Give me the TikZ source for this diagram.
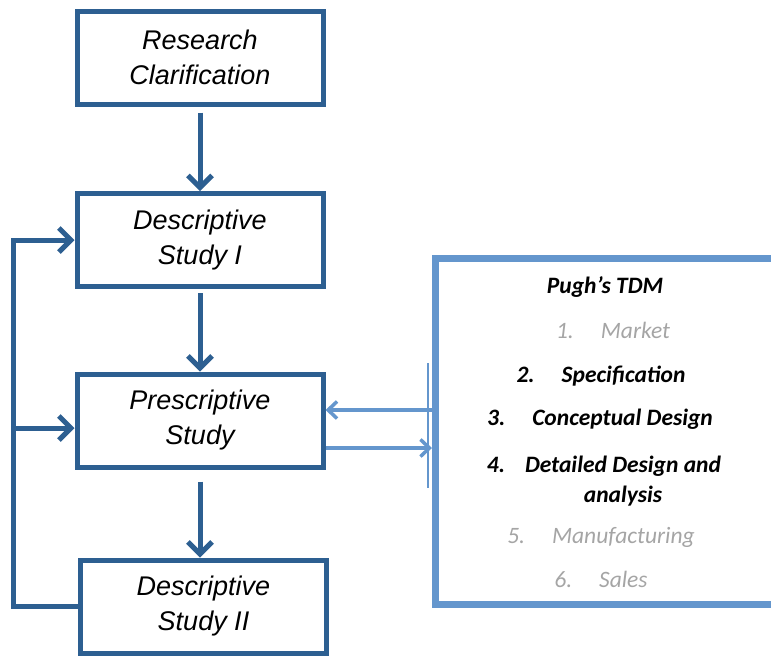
\documentclass[tikz,border=0pt]{standalone}
\usepackage{fontspec}
\setmainfont{Liberation Sans}
\newfontfamily\calibri{Carlito}
\usetikzlibrary{arrows.meta}

\definecolor{boxblue}{RGB}{45,95,145}
\definecolor{tdmblue}{RGB}{100,150,205}
\definecolor{stepgray}{RGB}{165,165,165}

\tikzset{
  stage/.style = {draw=boxblue, line width=5pt, minimum width=246pt, minimum height=93pt,
    align=center, inner sep=0pt, font=\fontsize{27}{35}\selectfont\itshape},
  flow/.style = {boxblue, line width=5pt, -{Straight Barb[length=12pt,width=24pt]}},
  tdmflow/.style = {tdmblue, line width=3.5pt, -{Straight Barb[length=9pt,width=17pt]}},
  pugh/.style = {anchor=base, inner sep=0pt, font=\calibri\fontsize{23.5}{30}\selectfont\bfseries\itshape},
  faded/.style = {pugh, text=stepgray, font=\calibri\fontsize{23.5}{30}\selectfont\mdseries\itshape}
}

\begin{document}
\begin{tikzpicture}[x=1pt, y=-1pt]

\clip (0,0) rectangle (771,657);

\node[stage] (rc) at (200,57.5) {Research\\Clarification};
\node[stage] (ds1) at (200,240) {Descriptive\\Study I};
\node[stage] (ps) at (200,420.5) {Prescriptive\\Study};
\node[stage] (ds2) at (203.5,606.5) {Descriptive\\Study II};

\draw[flow, shorten <=6pt] (rc) -- (ds1);
\draw[flow, shorten <=4pt] (ds1) -- (ps);
\draw[flow, shorten <=12pt] (ps.south) -- (ps.south |- ds2.north);

\coordinate (back) at (13,240);
\draw[flow] (ds2.west) -| (back) -- (ds1.west);
\draw[flow] (back |- 0,428) -- (ps.west |- 0,428);

\node[draw=tdmblue, line width=7pt, minimum width=380pt, minimum height=346pt,
  anchor=north west] (tdm) at (432,255) {};
\draw[tdmblue, line width=2pt] ([xshift=-4pt]tdm.west |- 0,363) -- ([xshift=-4pt]tdm.west |- 0,488);

\draw[tdmflow] (tdm.west |- 0,410) -- (ps.east |- 0,410);
\draw[tdmflow] (ps.east |- 0,448) -- (tdm.west |- 0,448);

\node[pugh] (title) at (605,293) {Pugh’s TDM};
\node[faded] (m1) at (613,338) {1.\hspace{27pt}Market};
\node[pugh] (m2) at (601,382) {2.\hspace{27pt}Specification};
\node[pugh] (m3) at (600,425) {3.\hspace{27pt}Conceptual Design};
\node[pugh] (m4) at (496,472) {4.};
\node[pugh, align=center] (m4t) at (623,502) {Detailed Design and\\analysis};
\node[faded] (m5) at (601,543) {5.\hspace{27pt}Manufacturing};
\node[faded] (m6) at (601,587) {6.\hspace{27pt}Sales};

\end{tikzpicture}
\end{document}
